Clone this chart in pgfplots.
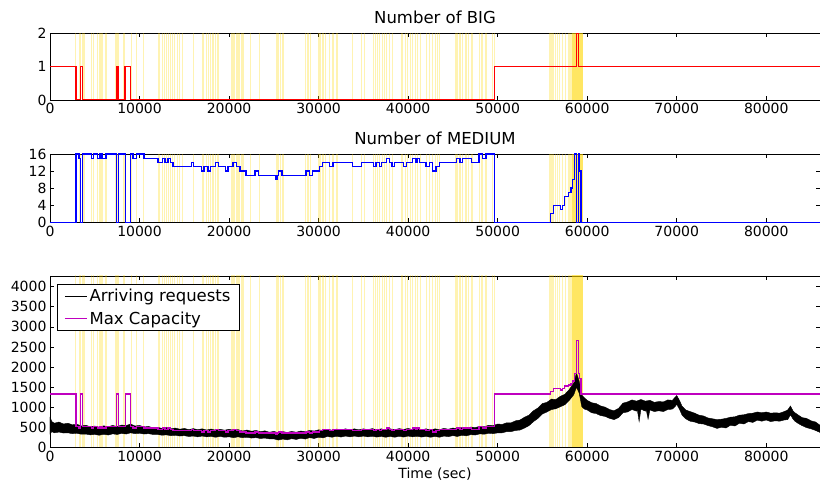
\documentclass[border=0pt]{standalone}
\usepackage{fontspec}
\setmainfont{DejaVu Sans}
\usepackage{pgfplots}
\usepackage{pgfplotstable}
\pgfplotsset{compat=1.18}

\definecolor{evt}{HTML}{FFD700}
\definecolor{mag}{rgb}{0.75,0,0.75}

% scaling events (vertical marks); b, m, r are the heights used in each panel
\pgfplotstableread{
t b m r
2863 2 16 4300
3271 2 16 4300
3420 2 16 4300
3643 2 16 4300
3792 2 16 4300
4647 2 16 4300
4833 2 16 4300
5279 2 16 4300
5577 2 16 4300
5800 2 16 4300
6246 2 16 4300
7361 2 16 4300
7510 2 16 4300
7658 2 16 4300
8179 2 16 4300
8365 2 16 4300
9108 2 16 4300
9666 2 16 4300
10484 2 16 4300
12082 2 16 4300
12268 2 16 4300
12566 2 16 4300
12826 2 16 4300
13012 2 16 4300
13198 2 16 4300
13458 2 16 4300
13681 2 16 4300
13941 2 16 4300
14202 2 16 4300
14499 2 16 4300
14797 2 16 4300
16060 2 16 4300
17027 2 16 4300
17176 2 16 4300
17473 2 16 4300
17659 2 16 4300
17919 2 16 4300
18142 2 16 4300
18291 2 16 4300
18514 2 16 4300
18700 2 16 4300
18811 2 16 4300
20261 2 16 4300
20447 2 16 4300
20633 2 16 4300
20893 2 16 4300
21116 2 16 4300
21376 2 16 4300
21562 2 16 4300
22380 2 16 4300
23421 2 16 4300
25280 2 16 4300
25466 2 16 4300
25726 2 16 4300
26024 2 16 4300
28552 2 16 4300
28812 2 16 4300
29072 2 16 4300
30039 2 16 4300
30188 2 16 4300
30485 2 16 4300
30782 2 16 4300
31228 2 16 4300
31600 2 16 4300
32046 2 16 4300
33757 2 16 4300
34761 2 16 4300
35132 2 16 4300
36136 2 16 4300
36359 2 16 4300
36545 2 16 4300
36805 2 16 4300
37102 2 16 4300
37363 2 16 4300
37623 2 16 4300
37920 2 16 4300
38218 2 16 4300
39222 2 16 4300
39407 2 16 4300
39705 2 16 4300
39965 2 16 4300
40262 2 16 4300
40522 2 16 4300
40820 2 16 4300
41080 2 16 4300
41341 2 16 4300
42010 2 16 4300
42381 2 16 4300
42753 2 16 4300
43051 2 16 4300
43311 2 16 4300
43497 2 16 4300
45356 2 16 4300
45542 2 16 4300
45802 2 16 4300
46099 2 16 4300
46471 2 16 4300
46768 2 16 4300
47140 2 16 4300
47958 2 16 4300
48255 2 16 4300
48701 2 16 4300
49445 2 16 4300
49631 2 16 4300
55840 2 16 4300
56063 2 16 4300
56211 2 16 4300
56434 2 16 4300
56695 2 16 4300
56880 2 16 4300
57252 2 16 4300
57549 2 16 4300
57921 2 16 4300
58070 2 16 4300
58293 2 16 4300
58442 2 16 4300
58553 2 16 4300
58665 2 16 4300
58814 2 16 4300
58925 2 16 4300
59037 2 16 4300
59186 2 16 4300
59297 2 16 4300
59409 2 16 4300
}\events

% the packed cluster around the peak, where the marks overlap
\pgfplotstableread{
t b m r
58380 2 16 4300
58500 2 16 4300
58610 2 16 4300
58720 2 16 4300
58870 2 16 4300
58980 2 16 4300
59100 2 16 4300
59240 2 16 4300
59350 2 16 4300
59460 2 16 4300
}\dense

\pgfplotsset{
  panel/.style={
    scale only axis, width=770pt,
    anchor=south west,
    xmin=0, xmax=86000,
    xtick={0,10000,...,80000},
    scaled ticks=false,
    tick align=inside, tick pos=both,
    major tick length=4pt,
    axis line style={black, line width=0.8pt},
    every tick/.style={black, line width=0.6pt},
    /pgf/number format/assume math mode=true,
    /pgf/number format/1000 sep={},
    tick label style={font=\fontsize{14}{16}\selectfont},
    label style={font=\fontsize{14}{16}\selectfont},
    title style={font=\fontsize{16.5}{19}\selectfont},
  },
  evts/.style={ycomb, no markers, draw=evt, draw opacity=0.3, line width=1.2pt, forget plot},
  evtsd/.style={ycomb, no markers, draw=evt, draw opacity=0.45, line width=1.5pt, forget plot},
}

\begin{document}
\begin{tikzpicture}
% ---- BIG ----
\begin{axis}[panel, at={(0pt,347.3pt)}, height=66.7pt,
  ymin=0, ymax=2, ytick={0,1,2}, title={Number of BIG}]
\addplot[evts] table[x=t, y=b] {\events};
\addplot[evtsd] table[x=t, y=b] {\dense};
\addplot[const plot, red, line width=1.6pt] coordinates {
(0,1)(2900,0)(3420,1)(3640,0)(7440,1)(7620,0)(8400,1)(9000,0)
(49650,1)(58810,2)(59040,1)(86000,1)};
\end{axis}

% ---- MEDIUM ----
\begin{axis}[panel, at={(0pt,225pt)}, height=68.3pt,
  ymin=0, ymax=16, ytick={0,4,8,12,16}, title={Number of MEDIUM}]
\addplot[evts] table[x=t, y=m] {\events};
\addplot[evtsd] table[x=t, y=m] {\dense};
\addplot[const plot, blue, line width=1.4pt] coordinates {
(0,0)(2900,16)(3250,15)(3420,0)(3640,16)(4650,15)(4830,16)(5280,15)(5580,16)
(5800,15)(6250,16)(7440,0)(7620,16)(8400,0)(9000,16)(9250,15)(9650,16)(10500,15)
(12080,14)(12550,15)(12830,14)(13200,15)(13450,14)(13760,13)(15800,14)(16060,13)
(16900,12)(17180,13)(17650,12)(17900,13)(18500,14)(18800,13)(19600,12)(19900,13)
(20450,14)(20800,13)(21200,12)(21900,11)(22900,12)(23300,11)(25200,10)(25350,11)
(25500,12)(25900,11)(28600,12)(29000,11)(29300,12)(30100,13)(30450,14)(31200,13)
(31600,14)(33800,13)(34800,14)(36100,13)(36400,14)(36800,13)(37000,14)(37600,15)
(37900,14)(38200,13)(38500,14)(39500,13)(39800,14)(40500,15)(40800,14)(41000,15)
(41300,14)(42000,13)(42400,14)(42750,12)(43100,13)(43500,14)(45400,15)(45800,14)
(46100,15)(47100,14)(47900,16)(48300,15)(48700,16)(49650,0)(55880,2)(56210,4)
(57000,3)(57250,4)(57440,6)(57920,7)(58180,8)(58370,10)(58550,16)(58810,0)
(59040,16)(59150,12)(59300,0)(86000,0)};
\end{axis}

% ---- requests and capacity ----
\begin{axis}[panel, at={(0pt,0pt)}, height=171.3pt,
  ymin=0, ymax=4267, ytick={0,500,...,4000},
  xlabel={Time (sec)},
  legend style={at={(0.009,0.953)}, anchor=north west,
    draw=black, line width=0.8pt, font=\fontsize{16.5}{19}\selectfont,
    inner xsep=7pt, inner ysep=3pt, row sep=4pt},
  legend cell align=left,
  legend image code/.code={\draw[#1, line width=1.2pt] (0pt,0pt) -- (22pt,0pt);}]
\addplot[evts] table[x=t, y=r] {\events};
\addplot[evtsd] table[x=t, y=r] {\dense};
% arriving requests: noisy band between upper and lower envelope
\addplot[fill=black, draw=black, line width=0.4pt, forget plot] coordinates {
(0,760)(200,640)(500,600)(1000,630)(1500,580)(2000,600)(2500,560)(3000,575)
(3500,530)(4000,550)(4500,510)(5000,530)(5500,500)(6000,535)(6500,510)(7000,545)
(7500,515)(8000,555)(8500,540)(9000,580)(9500,530)(10000,545)(10500,505)(11000,520)
(11500,485)(12000,500)(12500,470)(13000,490)(13500,460)(14000,480)(14500,450)
(15000,470)(15500,440)(16000,465)(16500,440)(17000,460)(17500,430)(18000,455)
(18500,425)(19000,450)(19500,425)(20000,450)(20500,420)(21000,440)(21500,405)
(22000,430)(22500,400)(23000,420)(23500,390)(24000,410)(24500,375)(25000,395)
(25500,365)(26000,390)(26500,370)(27000,395)(27500,375)(28000,405)(28500,390)
(29000,420)(29500,405)(30000,435)(30500,420)(31000,450)(31500,425)(32000,455)
(32500,430)(33000,460)(33500,435)(34000,460)(34500,435)(35000,460)(35500,440)
(36000,465)(36500,435)(37000,460)(37500,430)(38000,460)(38500,440)(39000,465)
(39500,445)(40000,470)(40500,440)(41000,465)(41500,435)(42000,460)(42500,430)
(43000,460)(43500,440)(44000,470)(44500,450)(45000,480)(45500,460)(46000,490)
(46500,475)(47000,505)(47500,490)(48000,525)(48500,510)(49000,550)(49500,540)
(50000,580)(50500,570)(51000,610)(51500,610)(52000,660)(52500,680)(53000,750)
(53500,800)(54000,910)(54500,980)(55000,1090)(55500,1120)(56000,1200)(56500,1190)
(57000,1270)(57500,1320)(58000,1440)(58500,1600)(58800,1850)(59100,1650)
(59400,1300)(59700,1230)(60000,1170)(60500,1110)(61000,1090)(61500,1030)
(62000,1000)(62500,940)(63000,910)(63500,970)(64000,1100)(64500,1130)(65000,1180)
(65500,1150)(66000,1190)(66500,1150)(67000,1170)(67500,1120)(68000,1140)
(68500,1130)(69000,1180)(69500,1170)(69800,1240)(70000,1290)(70300,1170)
(70600,1020)(71000,930)(71500,890)(72000,850)(72500,800)(73000,780)(73500,730)
(74000,710)(74500,690)(75000,700)(75500,720)(76000,750)(76500,760)(77000,800)
(77500,810)(78000,840)(78500,850)(79000,880)(79500,860)(80000,880)(80500,850)
(81000,860)(81500,850)(82000,890)(82400,930)(82700,1030)(83000,900)(83200,860)
(83600,800)(84000,740)(84500,720)(85000,660)(85500,630)(86000,550)
(86000,370)(85500,420)(85000,460)(84500,490)(84000,540)(83600,590)(83200,650)
(83000,700)(82700,810)(82400,690)(82000,680)(81500,650)(81000,660)(80500,640)
(80000,680)(79500,650)(79000,675)(78500,620)(78000,640)(77500,580)(77000,600)
(76500,530)(76000,550)(75500,480)(75000,500)(74500,470)(74000,510)(73500,540)
(73000,580)(72500,590)(72000,630)(71500,650)(71000,710)(70600,800)(70300,950)
(70000,1070)(69800,1010)(69500,950)(69000,940)(68500,890)(68000,910)(67500,890)
(67000,930)(66800,700)(66600,930)(66500,900)(66000,950)(65800,640)(65600,930)
(65500,900)(65000,940)(64500,880)(64000,860)(63500,740)(63000,690)(62500,720)
(62000,770)(61500,790)(61000,840)(60500,860)(60000,930)(59700,950)(59400,1010)
(59100,1350)(58800,1500)(58500,1310)(58000,1170)(57500,1060)(57000,1010)
(56500,960)(56000,940)(55500,880)(55000,830)(54500,720)(54000,640)(53500,540)
(53000,480)(52500,430)(52000,420)(51500,390)(51000,390)(50500,360)(50000,360)
(49500,340)(49000,350)(48500,325)(48000,335)(47500,305)(47000,315)(46500,285)
(46000,300)(45500,270)(45000,290)(44500,265)(44000,280)(43500,250)(43000,270)
(42500,250)(42000,270)(41500,255)(41000,275)(40500,260)(40000,280)(39500,255)
(39000,275)(38500,250)(38000,270)(37500,250)(37000,270)(36500,255)(36000,275)
(35500,260)(35000,280)(34500,260)(34000,280)(33500,260)(33000,280)(32500,255)
(32000,275)(31500,250)(31000,270)(30500,235)(30000,250)(29500,220)(29000,240)
(28500,205)(28000,225)(27500,195)(27000,215)(26500,185)(26000,205)(25500,180)
(25000,210)(24500,210)(24000,230)(23500,220)(23000,240)(22500,230)(22000,250)
(21500,240)(21000,260)(20500,240)(20000,260)(19500,250)(19000,270)(18500,250)
(18000,270)(17500,260)(17000,280)(16500,260)(16000,280)(15500,270)(15000,290)
(14500,280)(14000,300)(13500,290)(13000,310)(12500,300)(12000,320)(11500,320)
(11000,340)(10500,330)(10000,350)(9500,340)(9000,360)(8500,330)(8000,345)
(7500,320)(7000,335)(6500,305)(6000,325)(5500,300)(5000,320)(4500,310)(4000,330)
(3500,325)(3000,350)(2500,340)(2000,360)(1500,355)(1000,380)(500,360)(200,390)
(0,330)(0,760)};
\addlegendimage{black}
\addlegendentry{Arriving requests}
% capacity = 1330 per BIG + 32 per MEDIUM
\addplot[const plot, mag, line width=1.4pt] coordinates {
(0,1330)(2900,512)(3250,480)(3420,1330)(3640,512)(4650,480)(4830,512)(5280,480)
(5580,512)(5800,480)(6250,512)(7440,1330)(7620,512)(8400,1330)(9000,512)(9250,480)
(9650,512)(10500,480)(12080,448)(12550,480)(12830,448)(13200,480)(13450,448)
(13760,416)(15800,448)(16060,416)(16900,384)(17180,416)(17650,384)(17900,416)
(18500,448)(18800,416)(19600,384)(19900,416)(20450,448)(20800,416)(21200,384)
(21900,352)(22900,384)(23300,352)(25200,320)(25350,352)(25500,384)(25900,352)
(28600,384)(29000,352)(29300,384)(30100,416)(30450,448)(31200,416)(31600,448)
(33800,416)(34800,448)(36100,416)(36400,448)(36800,416)(37000,448)(37600,480)
(37900,448)(38200,416)(38500,448)(39500,416)(39800,448)(40500,480)(40800,448)
(41000,480)(41300,448)(42000,416)(42400,448)(42750,384)(43100,416)(43500,448)
(45400,480)(45800,448)(46100,480)(47100,448)(47900,512)(48300,480)(48700,512)
(49650,1330)(55880,1394)(56210,1458)(57000,1426)(57250,1458)(57440,1522)
(57920,1554)(58180,1586)(58370,1650)(58550,1842)(58810,2660)(59040,1842)
(59150,1714)(59300,1330)(86000,1330)};
\addlegendentry{Max Capacity}
\end{axis}

\pgfresetboundingbox
\path (-50pt,-41.7pt) rectangle (770pt,447.3pt);
\end{tikzpicture}
\end{document}
